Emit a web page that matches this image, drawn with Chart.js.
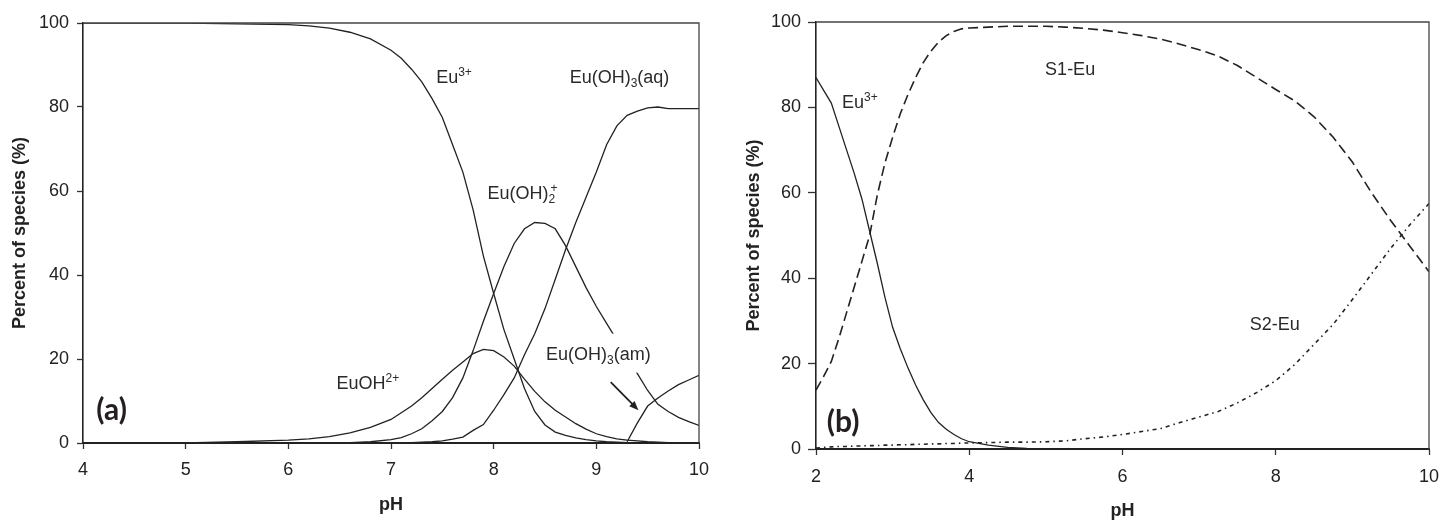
<!DOCTYPE html>
<html>
<head>
<meta charset="utf-8">
<script src="https://cdn.jsdelivr.net/npm/chart.js@4.4.1/dist/chart.umd.min.js"></script>
<style>
  html, body { margin: 0; padding: 0; background: #fff; }
  .panel { position: absolute; top: 0; width: 720px; height: 520px; }
</style>
</head>
<body>
<div class="panel" style="left:0"><canvas id="chartA" width="720" height="520"></canvas></div>
<div class="panel" style="left:720px"><canvas id="chartB" width="720" height="520"></canvas></div>
<script>
// (a) aqueous Eu speciation vs pH
var phA = [4, 4.5, 5, 5.5, 6, 6.2, 6.4, 6.6, 6.8, 7.0, 7.1, 7.2, 7.3, 7.4, 7.5, 7.6, 7.7, 7.8, 7.9, 8.0,
           8.1, 8.2, 8.3, 8.4, 8.5, 8.6, 8.7, 8.8, 8.9, 9.0, 9.1, 9.2, 9.3, 9.4, 9.5, 9.6, 9.7, 9.8, 9.9, 10];
var eu3A = [100, 100, 100, 99.8, 99.6, 99.3, 98.8, 97.8, 96.2, 93.5, 91.6, 89, 86, 82, 77.5, 71, 64.5, 55.5, 44.5, 35.6,
            27, 20, 13, 7.5, 4.3, 2.6, 1.8, 1.2, 0.8, 0.5, 0.3, 0.2, 0.1, 0, 0, 0, 0, 0, 0, 0];
var euohA = [0, 0, 0, 0.3, 0.7, 1.0, 1.5, 2.4, 3.7, 5.6, 7.2, 8.8, 10.8, 13, 15.2, 17.3, 19.3, 21.3, 22.3, 22,
             20.5, 18.3, 15.2, 12.3, 9.8, 7.8, 6.2, 4.6, 3.3, 2.2, 1.5, 1.0, 0.7, 0.5, 0.3, 0.2, 0.1, 0, 0, 0];
var euoh2A = [0, 0, 0, 0, 0, 0, 0, 0.1, 0.3, 0.8, 1.3, 2.2, 3.4, 5.3, 7.5, 10.8, 15.5, 22, 29, 35.6,
              42, 47.5, 51, 52.5, 52.3, 51, 47, 42, 37, 32.5, 28.5, 24.5, 20.5, 16.5, 12.5, 9.2, 7.5, 6.1, 5.1, 4.2];
var euoh3aqA = [0, 0, 0, 0, 0, 0, 0, 0, 0, 0, 0.05, 0.1, 0.2, 0.3, 0.5, 0.9, 1.4, 3, 4.4, 7.8,
                11.5, 15.5, 21, 26, 32, 39, 46, 52.5, 58.5, 64.5, 71, 75.5, 78, 79, 79.8, 80, 79.6, 79.6, 79.6, 79.6];
var euoh3amA = [null, null, null, null, null, null, null, null, null, null, null, null, null, null, null, null,
                null, null, null, null, null, null, null, null, null, null, null, null, null, null, null, null,
                0.3, 4.8, 8.8, 10.7, 12.4, 13.9, 15, 16.1];

// (b) surface complexation vs pH
var phB = [2, 2.1, 2.2, 2.3, 2.4, 2.5, 2.6, 2.7, 2.8, 2.9, 3, 3.1, 3.2, 3.3, 3.4, 3.5, 3.6, 3.7, 3.8, 3.9, 4,
           4.25, 4.5, 4.75, 5, 5.25, 5.5, 5.75, 6, 6.25, 6.5, 6.75, 7, 7.25, 7.5, 7.75, 8, 8.25, 8.5, 8.75,
           9, 9.25, 9.5, 9.75, 10];
var eu3B = [87, 84, 81, 75.5, 70, 64.5, 58.5, 51, 43.5, 35.5, 28.5, 23.5, 19, 15, 11.5, 8.5, 6.2, 4.6, 3.4, 2.4, 1.7,
            0.9, 0.4, 0.15, 0.05, 0, 0, 0, 0, 0, 0, 0, 0, 0, 0, 0, 0, 0, 0, 0, 0, 0, 0, 0, 0];
var s1B = [13.8, 17, 20.5, 26, 32, 38, 44, 50, 59.5, 67, 73, 78.5, 83, 87, 90.5, 93.2, 95.3, 96.8, 97.8, 98.4, 98.6,
           98.8, 99, 99, 99, 98.8, 98.5, 98.1, 97.5, 96.8, 96, 94.8, 93.5, 92, 89.8, 87, 84.2, 81.5, 77.8, 73,
           67.2, 60, 53.5, 47.5, 41.5];
var s2B = [0.2, 0.4, 0.5, 0.6, 0.6, 0.7, 0.7, 0.8, 0.8, 0.9, 0.9, 1.0, 1.0, 1.1, 1.1, 1.2, 1.2, 1.3, 1.3, 1.4, 1.4,
           1.5, 1.6, 1.6, 1.7, 1.9, 2.4, 2.8, 3.4, 4.1, 4.8, 6.2, 7.5, 8.8, 10.8, 13.2, 16, 19.8, 24.5, 29.2,
           35, 41, 47, 52.5, 57.5];

// curve labels: [text, mode]  mode: '' normal, 'sub', 'sup', 'sups' (sup stacked over previous sub)
var labelsA = [
  { x: 7.44, y: 85.7, parts: [['Eu', ''], ['3+', 'sup']] },
  { x: 8.74, y: 85.6, parts: [['Eu(OH)', ''], ['3', 'sub'], ['(aq)', '']] },
  { x: 7.94, y: 58.2, parts: [['Eu(OH)', ''], ['2', 'sub'], ['+', 'sups']] },
  { x: 6.47, y: 12.9, parts: [['EuOH', ''], ['2+', 'sup']] },
  { x: 8.51, y: 19.85, parts: [['Eu(OH)', ''], ['3', 'sub'], ['(am)', '']], mask: true }
];
var arrowsA = [{ x0: 9.14, y0: 14.5, x1: 9.41, y1: 7.8 }];
var labelsB = [
  { x: 2.34, y: 79.9, parts: [['Eu', ''], ['3+', 'sup']] },
  { x: 4.99, y: 87.5, parts: [['S1-Eu', '']] },
  { x: 7.66, y: 27.8, parts: [['S2-Eu', '']] }
];

var FONT = "'Liberation Sans', Arial, Helvetica, sans-serif";
var INK = '#222';

function points(xs, ys) {
  return xs.map(function (x, i) { return { x: x, y: ys[i] }; });
}

function drawRich(ctx, parts, x, y, doDraw) {
  var cx = x, lastStart = x, lastEnd = x;
  parts.forEach(function (p) {
    var t = p[0], mode = p[1], dy = 0, start = cx;
    if (mode === '') {
      ctx.font = '18px ' + FONT;
    } else {
      ctx.font = '12px ' + FONT;
      dy = mode === 'sub' ? 4 : -7;
    }
    if (mode === 'sups') { start = lastStart + 2; dy = -7; }
    if (doDraw) ctx.fillText(t, start, y + dy);
    var end = start + ctx.measureText(t).width;
    if (mode === 'sups') end = Math.max(end, lastEnd);
    lastStart = start; lastEnd = end; cx = end;
  });
  return cx - x;
}

var annotate = {
  id: 'annotate',
  afterDatasetsDraw: function (chart, args, opts) {
    var ctx = chart.ctx, xs = chart.scales.x, ys = chart.scales.y, a = chart.chartArea;
    ctx.save();
    // top and right frame
    ctx.strokeStyle = '#444';
    ctx.lineWidth = 1.3;
    ctx.beginPath();
    ctx.moveTo(a.left, a.top);
    ctx.lineTo(a.right, a.top);
    ctx.lineTo(a.right, a.bottom);
    ctx.stroke();

    ctx.fillStyle = '#2a2a2a';
    ctx.textBaseline = 'alphabetic';
    ctx.textAlign = 'left';
    (opts.labels || []).forEach(function (lab) {
      var px = xs.getPixelForValue(lab.x), py = ys.getPixelForValue(lab.y);
      if (lab.mask) {
        var w = drawRich(ctx, lab.parts, px, py, false);
        ctx.fillStyle = '#fff';
        ctx.fillRect(px - 4, py - 26, w + 8, 39);
        ctx.fillStyle = '#2a2a2a';
      }
      drawRich(ctx, lab.parts, px, py, true);
    });

    (opts.arrows || []).forEach(function (ar) {
      var x0 = xs.getPixelForValue(ar.x0), y0 = ys.getPixelForValue(ar.y0);
      var x1 = xs.getPixelForValue(ar.x1), y1 = ys.getPixelForValue(ar.y1);
      var ang = Math.atan2(y1 - y0, x1 - x0), hl = 10;
      ctx.strokeStyle = INK;
      ctx.lineWidth = 1.8;
      ctx.beginPath();
      ctx.moveTo(x0, y0);
      ctx.lineTo(x1 - Math.cos(ang) * 6, y1 - Math.sin(ang) * 6);
      ctx.stroke();
      ctx.fillStyle = INK;
      ctx.beginPath();
      ctx.moveTo(x1, y1);
      ctx.lineTo(x1 - hl * Math.cos(ang - 0.38), y1 - hl * Math.sin(ang - 0.38));
      ctx.lineTo(x1 - hl * Math.cos(ang + 0.38), y1 - hl * Math.sin(ang + 0.38));
      ctx.closePath();
      ctx.fill();
    });

    if (opts.panel) {
      ctx.fillStyle = '#231f20';
      ctx.font = "bold 30px Lato, 'Open Sans', sans-serif";
      ctx.fillText(opts.panel.text, xs.getPixelForValue(opts.panel.x), ys.getPixelForValue(opts.panel.y));
    }
    ctx.restore();
  }
};

function makeChart(id, cfg) {
  var ctx = document.getElementById(id).getContext('2d');
  return new Chart(ctx, {
    type: 'line',
    data: { datasets: cfg.datasets },
    plugins: [annotate],
    options: {
      responsive: false,
      animation: false,
      devicePixelRatio: 1,
      layout: { padding: cfg.padding },
      elements: { point: { radius: 0 }, line: { tension: 0, borderColor: INK, borderWidth: 1.3 } },
      plugins: {
        legend: { display: false },
        tooltip: { enabled: false },
        annotate: cfg.annotate
      },
      scales: {
        x: {
          type: 'linear',
          min: cfg.xmin,
          max: 10,
          ticks: { stepSize: cfg.xstep, padding: cfg.xpad, color: INK, font: { family: FONT, size: 18 } },
          grid: { display: true, drawOnChartArea: false, drawTicks: true, tickLength: 6, color: '#333', tickWidth: 1.3 },
          border: { display: true, color: INK, width: 2 },
          title: {
            display: true, text: 'pH', color: INK,
            font: { family: FONT, size: 18, weight: 'bold', lineHeight: 1 },
            padding: { top: 0, bottom: cfg.xtitlePad }
          },
          afterFit: function (s) {
            s.height = cfg.xh;
            s.paddingLeft = 0;
            s.paddingRight = 0;
          }
        },
        y: {
          min: 0,
          max: 100,
          ticks: { stepSize: 20, padding: cfg.ypad, color: INK, font: { family: FONT, size: 18 } },
          grid: { display: true, drawOnChartArea: false, drawTicks: true, tickLength: cfg.ytick, color: '#333', tickWidth: 1.3 },
          border: { display: true, color: INK, width: 1.6 },
          title: {
            display: true, text: 'Percent of species (%)', color: INK,
            font: { family: FONT, size: 18, weight: 'bold', lineHeight: 1 },
            padding: { top: cfg.ytitlePad, bottom: 0 }
          },
          afterFit: function (s) { s.width = cfg.yw; }
        }
      }
    }
  });
}

makeChart('chartA', {
  datasets: [
    { label: 'Eu3+', data: points(phA, eu3A) },
    { label: 'EuOH2+', data: points(phA, euohA) },
    { label: 'Eu(OH)2+', data: points(phA, euoh2A) },
    { label: 'Eu(OH)3(aq)', data: points(phA, euoh3aqA) },
    { label: 'Eu(OH)3(am)', data: points(phA, euoh3amA) }
  ],
  padding: { top: 23, right: 21, left: 0, bottom: 0 },
  xmin: 4, xstep: 1, xpad: 10, xh: 77, xtitlePad: 6,
  yw: 83, ytick: 6, ypad: 8, ytitlePad: 11,
  annotate: { labels: labelsA, arrows: arrowsA, panel: { text: '(a)', x: 4.13, y: 5.4 } }
});

makeChart('chartB', {
  datasets: [
    { label: 'Eu3+', data: points(phB, eu3B) },
    { label: 'S1-Eu', data: points(phB, s1B), borderDash: [10, 5], borderWidth: 1.6 },
    { label: 'S2-Eu', data: points(phB, s2B), borderDash: [4, 4, 1.5, 4], borderWidth: 1.6 }
  ],
  padding: { top: 22, right: 11, left: 0, bottom: 0 },
  xmin: 2, xstep: 2, xpad: 11, xh: 71, xtitlePad: 0,
  yw: 96, ytick: 8, ypad: 7, ytitlePad: 25,
  annotate: { labels: labelsB, panel: { text: '(b)', x: 2.14, y: 4.05 } }
});
</script>
</body>
</html>
